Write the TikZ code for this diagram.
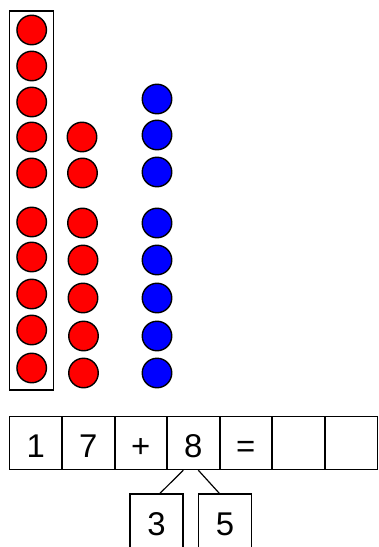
\documentclass[tikz,border=0pt]{standalone}
\usepackage{fontspec}
\setmainfont{Liberation Sans}
\usetikzlibrary{calc}
\tikzset{
  bead/.style={circle, draw=black, line width=1.4bp, minimum size=29.5bp, inner sep=0pt},
  redbead/.style={bead, fill=red},
  bluebead/.style={bead, fill=blue},
  cell/.style={rectangle, draw=black, line width=1.4bp, minimum width=53bp, minimum height=53bp,
    inner sep=0pt, text height=29bp, text depth=0pt, font=\fontsize{33}{33}\selectfont},
  partcell/.style={cell, minimum height=60bp, text height=23bp},
  link/.style={draw=black, line width=1.2bp}
}
\begin{document}
\begin{tikzpicture}[x=1bp,y=-1bp]
\useasboundingbox (0,0) rectangle (378,547);
\clip (0,0) rectangle (378,547);
% ten-frame
\node[draw=black, line width=1.4bp, minimum width=44bp, minimum height=379bp, inner sep=0pt] (frame) at (31.3,200.5) {};
% left column (10 red)
\foreach \y [count=\i] in {30,66,102,137,173,222,257,294,330,368}
  \node[redbead] (l\i) at (31.7,\y) {};
% middle column (7 red)
\foreach \x/\y [count=\i] in {82/137,82.5/173,82.5/223,83/260,83/298,83.5/336,83.5/373}
  \node[redbead] (m\i) at (\x,\y) {};
% right column (8 blue)
\foreach \y [count=\i] in {99,135,172,223,260,298,336,373}
  \node[bluebead] (b\i) at (157,\y) {};
% equation row
\node[cell] (c1) at (35.8,443) {1};
\node[cell] (c2) at (88.3,443) {7};
\node[cell] (c3) at (140.8,443) {+};
\node[cell] (c4) at (193.3,443) {8};
\node[cell] (c5) at (245.8,443) {=};
\node[cell] (c6) at (298.3,443) {};
\node[cell] (c7) at (350.8,443) {};
% split boxes (bottom edge cut off by the page)
\node[partcell] (s1) at (156.4,524) {3};
\node[partcell] (s2) at (225.1,524) {5};
% connectors
\coordinate (p1) at ($(c4.south)+(-10,0)$);
\coordinate (p2) at ($(c4.south)+(5,0)$);
\coordinate (q1) at ($(s1.north)+(3.6,0)$);
\coordinate (q2) at ($(s2.north)+(-5.8,0)$);
\draw[link] (p1) -- (q1);
\draw[link] (p2) -- (q2);
\end{tikzpicture}
\end{document}
